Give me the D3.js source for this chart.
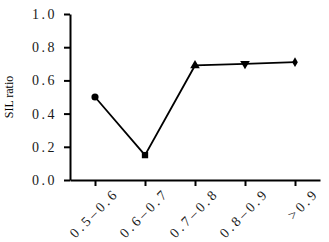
<!DOCTYPE html>
<html>
<head>
<meta charset="utf-8">
<script src="https://d3js.org/d3.v7.min.js"></script>
<style>
    body { margin: 0; background: #fff; }
    .axis path, .axis line { stroke: #000; stroke-width: 2px; }
</style>
</head>
<body>
<svg width="329" height="242"></svg>
<script>
    // data
    const categories = ["0.5–0.6", "0.6–0.7", "0.7–0.8", "0.8–0.9", ">0.9"];
    const silRatio = [0.50, 0.15, 0.69, 0.70, 0.71];
    const markers = [d3.symbolCircle, d3.symbolSquare, d3.symbolTriangle, "triDown", d3.symbolDiamond];
    const yTicks = [0, 0.2, 0.4, 0.6, 0.8, 1.0];

    const serif = "'Liberation Serif', 'DejaVu Serif', serif";

    const margin = {top: 14, right: 9, bottom: 62, left: 70},
          width = 329 - margin.left - margin.right,
          height = 242 - margin.top - margin.bottom;

    const svg = d3.select("svg")
        .append("g")
        .attr("transform", `translate(${margin.left},${margin.top})`);

    const x = d3.scalePoint().domain(categories).range([0, width]).padding(0.5);
    const y = d3.scaleLinear().domain([0, 1]).range([height, 0]);

    // y axis
    svg.append("g")
        .attr("class", "axis")
        .call(d3.axisLeft(y).tickValues(yTicks).tickFormat(d3.format(".1f")).tickSize(6).tickSizeOuter(0))
        .attr("font-family", serif)
        .attr("font-size", 14)
        .selectAll("text")
        .attr("x", -13)
        .attr("fill", "#1a1a1a")
        .style("letter-spacing", "2.5px");

    // x axis
    svg.append("g")
        .attr("class", "axis")
        .attr("transform", `translate(0,${height})`)
        .call(d3.axisBottom(x).tickSize(6).tickSizeOuter(0))
        .attr("font-family", serif)
        .attr("font-size", 14)
        .selectAll("text")
        .attr("text-anchor", "end")
        .attr("fill", "#1a1a1a")
        .attr("dx", "0.5em")
        .attr("dy", "1.3em")
        .attr("transform", "rotate(-45)")
        .style("letter-spacing", "3px");

    // axis title
    svg.append("text")
        .attr("transform", `translate(${-57},${height / 2}) rotate(-90)`)
        .attr("text-anchor", "middle")
        .attr("font-family", serif)
        .attr("font-size", 12)
        .text("SIL ratio");

    const pts = categories.map((c, i) => ({cat: c, v: silRatio[i], m: markers[i]}));

    const line = d3.line()
        .x(d => x(d.cat))
        .y(d => y(d.v));

    svg.append("path")
        .datum(pts)
        .attr("fill", "none")
        .attr("stroke", "#000")
        .attr("stroke-width", 1.8)
        .attr("d", line);

    svg.selectAll(".mk")
        .data(pts)
        .enter().append("path")
        .attr("class", "mk")
        .attr("transform", d => d.m === "triDown"
            ? `translate(${x(d.cat)},${y(d.v)}) rotate(180)`
            : `translate(${x(d.cat)},${y(d.v)})`)
        .attr("d", d => d3.symbol()
            .type(d.m === "triDown" ? d3.symbolTriangle : d.m)
            .size(d.m === d3.symbolDiamond ? 28 : 40)())
        .attr("fill", "#000");
</script>
</body>
</html>
